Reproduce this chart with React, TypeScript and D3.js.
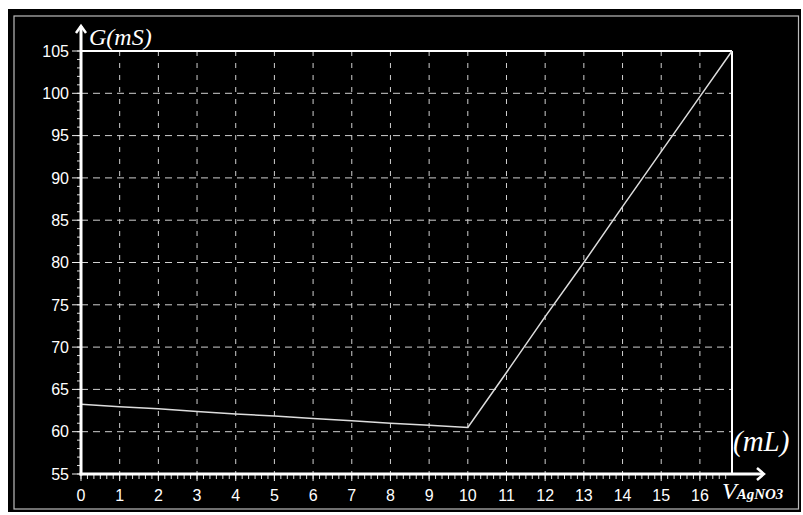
import React from "react";
import * as d3 from "d3";

const volumes = [0, 1, 2, 3, 4, 5, 6, 7, 8, 9, 10, 11, 12, 13, 14, 15, 16, 16.83];
const conductance = [63.25, 62.95, 62.7, 62.4, 62.1, 61.85, 61.55, 61.3, 61.0, 60.75, 60.5, 67.0, 73.6, 80.0, 86.6, 93.1, 99.6, 105];
const xTicks = [0, 1, 2, 3, 4, 5, 6, 7, 8, 9, 10, 11, 12, 13, 14, 15, 16];
const yTicks = [55, 60, 65, 70, 75, 80, 85, 90, 95, 100, 105];

const W = 803;
const H = 515;
const L = 81, R = 732, T = 51, B = 474;

export default function App() {
  const x = d3.scaleLinear().domain([0, 16.83]).range([L, R]);
  const y = d3.scaleLinear().domain([55, 105]).range([B, T]);

  const line = d3
    .line<number>()
    .x((_, i) => x(volumes[i]))
    .y((d) => y(d));

  const xMinor: number[] = [];
  for (let v = 0; v <= 16.83 + 1e-6; v += 1 / 6) xMinor.push(v);
  const yMinor = d3.range(55, 106, 1);

  const grid = "#d0d0d0";
  const sans = "'Liberation Sans', Arial, sans-serif";
  const serif = "'Liberation Serif', 'Times New Roman', serif";

  return (
    <svg
      width={W}
      height={H}
      style={{ position: "absolute", left: 0, top: 0 }}
    >
      <rect x={0} y={0} width={W} height={H} fill="#fff" />
      <rect x={8} y={9} width={793} height={503} fill="#000" />
      <rect x={14} y={16} width={784.5} height={493} fill="none" stroke="#bbb" strokeWidth={1.2} />

      {/* gridlines */}
      {xTicks.slice(1).map((t) => (
        <line key={"gx" + t} x1={x(t)} x2={x(t)} y1={T} y2={B} stroke={grid} strokeWidth={1} strokeDasharray="5,7" />
      ))}
      {yTicks.slice(1, -1).map((t) => (
        <line key={"gy" + t} x1={L} x2={R} y1={y(t)} y2={y(t)} stroke={grid} strokeWidth={1} strokeDasharray="7,5" />
      ))}

      {/* minor ticks */}
      {xMinor.map((v, i) => (
        <line key={"mx" + i} x1={x(v)} x2={x(v)} y1={B} y2={B + 5} stroke="#ddd" strokeWidth={1} />
      ))}
      {yMinor.map((v) => (
        <line key={"my" + v} x1={L - 4} x2={L} y1={y(v)} y2={y(v)} stroke="#ddd" strokeWidth={1} />
      ))}
      {yTicks.map((t) => (
        <line key={"ty" + t} x1={L - 9} x2={L} y1={y(t)} y2={y(t)} stroke="#eee" strokeWidth={1} />
      ))}
      {xTicks.map((t) => (
        <line key={"tx" + t} x1={x(t)} x2={x(t)} y1={B} y2={B + 7} stroke="#eee" strokeWidth={1} />
      ))}

      {/* plot frame top/right */}
      <line x1={L} x2={R} y1={T} y2={T} stroke="#fff" strokeWidth={2} />
      <line x1={R} x2={R} y1={T} y2={B} stroke="#fff" strokeWidth={2} />

      {/* data line */}
      <path d={line(conductance) || ""} fill="none" stroke="#ddd" strokeWidth={1.5} />

      {/* axes */}
      <line x1={L} x2={L} y1={B + 1.5} y2={26} stroke="#fff" strokeWidth={3} />
      <polyline points={`${L - 5},33 ${L},26 ${L + 5},33`} fill="none" stroke="#fff" strokeWidth={2.5} />
      <line x1={L - 1.5} x2={763} y1={B} y2={B} stroke="#fff" strokeWidth={3} />
      <polyline points={`757,468 764,${B} 757,480`} fill="none" stroke="#fff" strokeWidth={2.5} />

      {/* tick labels */}
      {yTicks.map((t) => (
        <text key={"ly" + t} x={69} y={y(t)} dy="0.36em" textAnchor="end" fill="#fff" fontFamily={sans} fontSize={16}>
          {t}
        </text>
      ))}
      {xTicks.map((t) => (
        <text key={"lx" + t} x={x(t)} y={501} textAnchor="middle" fill="#fff" fontFamily={sans} fontSize={16}>
          {t}
        </text>
      ))}

      {/* axis titles */}
      <text x={89} y={45} fill="#fff" fontFamily={serif} fontStyle="italic" fontSize={24}>
        G(mS)
      </text>
      <text x={733} y={451} fill="#fff" fontFamily={serif} fontStyle="italic" fontSize={29}>
        (mL)
      </text>
      <text x={722} y={499} fill="#fff" fontFamily={serif} fontStyle="italic">
        <tspan fontSize={24}>V</tspan>
        <tspan fontSize={15} fontWeight="bold">AgNO3</tspan>
      </text>
    </svg>
  );
}
